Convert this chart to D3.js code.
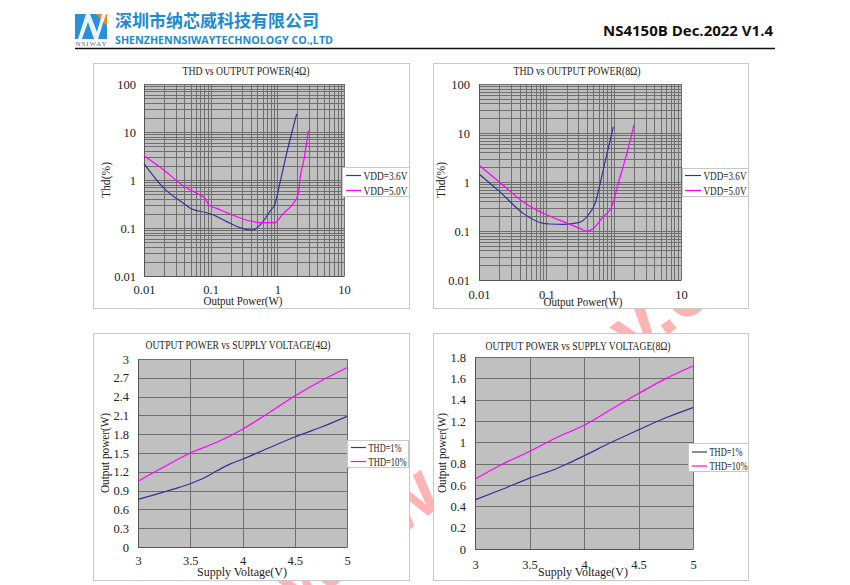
<!DOCTYPE html>
<html>
<head>
<meta charset="utf-8">
<script src="https://cdn.jsdelivr.net/npm/d3@7"></script>
<style>
  body { margin: 0; background: #fff; }
</style>
</head>
<body>
<div id="page"></div>
<script>
// === data
// THD vs output power, 4 ohm
var thd4_p36 = [0.01, 0.02, 0.039, 0.052, 0.087, 0.11, 0.174, 0.275, 0.39, 0.435, 0.55, 0.77, 0.92, 1.09, 1.38, 1.74, 1.95];
var thd4_v36 = [2.2, 0.67, 0.327, 0.249, 0.208, 0.187, 0.136, 0.102, 0.091, 0.091, 0.115, 0.22, 0.316, 0.85, 3.6, 12.9, 23.7];
var thd4_p50 = [0.01, 0.02, 0.039, 0.069, 0.082, 0.095, 0.123, 0.195, 0.39, 0.55, 0.92, 1.23, 1.74, 2.07, 2.19, 2.5, 2.92];
var thd4_v50 = [3.2, 1.6, 0.75, 0.487, 0.415, 0.296, 0.257, 0.196, 0.14, 0.13, 0.13, 0.202, 0.327, 0.527, 1.08, 2.6, 10.7];
// THD vs output power, 8 ohm
var thd8_p36 = [0.01, 0.0203, 0.0453, 0.0898, 0.113, 0.179, 0.3, 0.42, 0.53, 0.7, 0.99];
var thd8_v36 = [1.46, 0.635, 0.229, 0.143, 0.139, 0.137, 0.148, 0.212, 0.367, 1.76, 13.5];
var thd8_p50 = [0.01, 0.02, 0.045, 0.0716, 0.095, 0.179, 0.315, 0.4, 0.5, 0.7, 0.93, 1.17, 1.57, 2.0];
var thd8_v50 = [2.22, 1.0, 0.397, 0.268, 0.222, 0.155, 0.113, 0.1, 0.113, 0.196, 0.304, 0.94, 3.85, 14.6];
// output power vs supply voltage, 4 ohm
var pv4_v1 = [3, 3.25, 3.5, 3.63, 3.76, 3.89, 4, 4.25, 4.5, 4.75, 5];
var pv4_p1 = [0.76, 0.88, 1.01, 1.10, 1.22, 1.33, 1.40, 1.58, 1.755, 1.91, 2.085];
var pv4_v10 = [3, 3.25, 3.5, 3.76, 4, 4.25, 4.5, 4.75, 5];
var pv4_p10 = [1.05, 1.28, 1.50, 1.675, 1.88, 2.14, 2.41, 2.65, 2.86];
// output power vs supply voltage, 8 ohm
var pv8_v1 = [3, 3.25, 3.5, 3.75, 3.87, 4, 4.25, 4.5, 4.75, 5];
var pv8_p1 = [0.46, 0.56, 0.665, 0.755, 0.81, 0.873, 1.0, 1.117, 1.23, 1.326];
var pv8_v10 = [3, 3.25, 3.5, 3.75, 4, 4.25, 4.5, 4.75, 5];
var pv8_p10 = [0.655, 0.795, 0.914, 1.045, 1.16, 1.31, 1.457, 1.597, 1.715];

var logTicks = [0.01, 0.1, 1, 10, 100];
var logTickLabels = ["0.01", "0.1", "1", "10", "100"];
var vddLabels = ["VDD=3.6V", "VDD=5.0V"];
var thdLabels = ["THD=1%", "THD=10%"];
var voltTicks = [3, 3.5, 4, 4.5, 5];
var voltTickLabels = ["3", "3.5", "4", "4.5", "5"];
var pw4Ticks = [0, 0.3, 0.6, 0.9, 1.2, 1.5, 1.8, 2.1, 2.4, 2.7, 3];
var pw4TickLabels = ["0", "0.3", "0.6", "0.9", "1.2", "1.5", "1.8", "2.1", "2.4", "2.7", "3"];
var pw8Ticks = [0, 0.2, 0.4, 0.6, 0.8, 1, 1.2, 1.4, 1.6, 1.8];
var pw8TickLabels = ["0", "0.2", "0.4", "0.6", "0.8", "1", "1.2", "1.4", "1.6", "1.8"];

var BLUE = "#333399", PINK = "#ff00ff";
var SERIF = "Liberation Serif, DejaVu Serif, serif";

var svg = d3.select("#page").append("svg")
    .attr("width", 850).attr("height", 585)
    .attr("font-family", SERIF)
    .style("display", "block");

// === watermark (sits behind the white chart boxes)
svg.append("text")
    .attr("transform", "translate(300,612) rotate(-37)")
    .attr("font-family", "Liberation Sans")
    .attr("font-size", 78)
    .attr("font-weight", "bold")
    .attr("fill", "#ff6a6a")
    .attr("opacity", 0.5)
    .text("www.nsiway.c");

// === header
var logo = svg.append("g");
logo.append("rect").attr("x", 75).attr("y", 14).attr("width", 32).attr("height", 25).attr("fill", "#2a8fdc");
logo.append("path").attr("d", "M96,14 L107,14 L107,26 Z").attr("fill", "#f08a24");
logo.append("path").attr("d", "M78,39 L86,14 L90,14 L97,32 L102,14 L106,14 L98,39 L94,39 L88,22 L82,39 Z")
    .attr("fill", "#fff").attr("opacity", 0.9);
logo.append("text").attr("x", 91).attr("y", 46).attr("text-anchor", "middle")
    .attr("font-size", 7).attr("fill", "#5a6a8a").attr("textLength", 31).text("NSIWAY");

svg.append("text").attr("x", 115).attr("y", 27)
    .attr("font-family", "Noto Sans CJK SC").attr("font-weight", "bold")
    .attr("font-size", 17).attr("fill", "#1b8bd6")
    .text("深圳市纳芯威科技有限公司");
svg.append("text").attr("x", 115).attr("y", 44)
    .attr("font-family", "Open Sans").attr("font-weight", "bold")
    .attr("font-size", 10).attr("fill", "#1b8bd6")
    .attr("textLength", 218).attr("lengthAdjust", "spacingAndGlyphs")
    .text("SHENZHENNSIWAYTECHNOLOGY CO.,LTD");
svg.append("text").attr("x", 773).attr("y", 36).attr("text-anchor", "end")
    .attr("font-family", "Open Sans").attr("font-weight", "bold")
    .attr("font-size", 15).attr("fill", "#111")
    .attr("textLength", 170).attr("lengthAdjust", "spacingAndGlyphs")
    .text("NS4150B Dec.2022 V1.4");
svg.append("line").attr("x1", 75).attr("x2", 775).attr("y1", 48.5).attr("y2", 48.5)
    .attr("stroke", "#111").attr("stroke-width", 1.6);

// === helpers
function frame(o) {
  var g = svg.append("g");
  g.append("rect")
    .attr("x", o.box[0] + 0.5).attr("y", o.box[1] + 0.5)
    .attr("width", o.box[2] - o.box[0]).attr("height", o.box[3] - o.box[1])
    .attr("fill", "#fff").attr("stroke", "#c8c8c8");
  g.append("rect")
    .attr("x", o.plot[0]).attr("y", o.plot[1])
    .attr("width", o.plot[2] - o.plot[0]).attr("height", o.plot[3] - o.plot[1])
    .attr("fill", "#c0c0c0");
  return g;
}

function labels(g, o) {
  g.append("text").attr("x", o.title[0]).attr("y", o.title[1])
    .attr("text-anchor", "middle").attr("font-size", 11.5).attr("fill", "#222")
    .attr("textLength", o.title[3]).attr("lengthAdjust", "spacingAndGlyphs")
    .text(o.title[2]);
  g.append("text").attr("x", o.xlab[0]).attr("y", o.xlab[1])
    .attr("text-anchor", "middle").attr("font-size", 12).attr("fill", "#222")
    .attr("textLength", o.xlab[3]).attr("lengthAdjust", "spacingAndGlyphs")
    .text(o.xlab[2]);
  g.append("text")
    .attr("transform", "translate(" + o.ylab[0] + "," + o.ylab[1] + ") rotate(-90)")
    .attr("text-anchor", "middle").attr("font-size", 12).attr("fill", "#222")
    .attr("textLength", o.ylab[3]).attr("lengthAdjust", "spacingAndGlyphs")
    .text(o.ylab[2]);
}

function legend(g, o, names) {
  var L = o.legend; // x0, y0, x1, y1, lineX0, lineX1, row1y, row2y, text widths
  g.append("rect").attr("x", L[0] + 0.5).attr("y", L[1] + 0.5)
    .attr("width", L[2] - L[0]).attr("height", L[3] - L[1])
    .attr("fill", "#fff").attr("stroke", "#c8c8c8");
  [BLUE, PINK].forEach(function(c, i) {
    var y = i ? L[7] : L[6];
    g.append("line").attr("x1", L[4]).attr("x2", L[5]).attr("y1", y).attr("y2", y)
      .attr("stroke", c).attr("stroke-width", 1.2);
    g.append("text").attr("x", L[5] + 2.5).attr("y", y + 4)
      .attr("font-size", 11.5).attr("fill", "#222")
      .attr("textLength", L[8 + i]).attr("lengthAdjust", "spacingAndGlyphs")
      .text(names[i]);
  });
}

function series(g, x, y, xs, ys, color) {
  var pts = xs.map(function(v, i) { return [x(v), y(ys[i])]; });
  g.append("path")
    .attr("d", d3.line().curve(d3.curveMonotoneX)(pts))
    .attr("fill", "none").attr("stroke", color).attr("stroke-width", 1.2);
}

function styleAxis(a) {
  a.select(".domain").attr("stroke", "#555");
  a.selectAll("text").attr("font-family", SERIF).attr("font-size", 12.5).attr("fill", "#222");
}

function logChart(o) {
  var g = frame(o);
  var x = d3.scaleLog().domain([0.01, 10]).range([o.plot[0], o.plot[2]]);
  var y = d3.scaleLog().domain([0.01, 100]).range([o.plot[3], o.plot[1]]);
  var xMinor = [], yMinor = [];
  [0.01, 0.1, 1].forEach(function(d) { for (var k = 1; k < 10; k++) xMinor.push(d * k); });
  [0.01, 0.1, 1, 10].forEach(function(d) { for (var k = 1; k < 10; k++) yMinor.push(d * k); });
  g.selectAll(".vx").data(xMinor).enter().append("line")
    .attr("x1", function(d) { return Math.round(x(d)) + 0.5; })
    .attr("x2", function(d) { return Math.round(x(d)) + 0.5; })
    .attr("y1", o.plot[1]).attr("y2", o.plot[3])
    .attr("stroke", "#6f6f6f").attr("stroke-width", 1);
  g.selectAll(".hy").data(yMinor.concat([100])).enter().append("line")
    .attr("y1", function(d) { return Math.round(y(d)) + 0.5; })
    .attr("y2", function(d) { return Math.round(y(d)) + 0.5; })
    .attr("x1", o.plot[0]).attr("x2", o.plot[2])
    .attr("stroke", "#6f6f6f").attr("stroke-width", 1);
  g.append("line").attr("x1", o.plot[2] + 0.5).attr("x2", o.plot[2] + 0.5)
    .attr("y1", o.plot[1]).attr("y2", o.plot[3]).attr("stroke", "#6f6f6f");

  // axes with the library, then restyle
  var xa = g.append("g").attr("transform", "translate(0," + o.plot[3] + ")")
    .call(d3.axisBottom(x).tickValues(logTicks.slice(0, 4)).tickSize(0).tickPadding(o.xpad)
      .tickFormat(function(d, i) { return logTickLabels[i]; }));
  var ya = g.append("g").attr("transform", "translate(" + o.plot[0] + ",0)")
    .call(d3.axisLeft(y).tickValues(logTicks).tickSize(0).tickPadding(o.ypad)
      .tickFormat(function(d, i) { return logTickLabels[i]; }));
  styleAxis(xa); styleAxis(ya);

  series(g, x, y, o.s1[0], o.s1[1], BLUE);
  series(g, x, y, o.s2[0], o.s2[1], PINK);
  labels(g, o);
  legend(g, o, vddLabels);
}

function linChart(o) {
  var g = frame(o);
  var x = d3.scaleLinear().domain([3, 5]).range([o.plot[0], o.plot[2]]);
  var y = d3.scaleLinear().domain([0, o.ymax]).range([o.plot[3], o.plot[1]]);
  g.selectAll(".vx").data(voltTicks).enter().append("line")
    .attr("x1", function(d) { return Math.round(x(d)) + 0.5; })
    .attr("x2", function(d) { return Math.round(x(d)) + 0.5; })
    .attr("y1", o.plot[1]).attr("y2", o.plot[3])
    .attr("stroke", "#6f6f6f");
  g.selectAll(".hy").data(o.yticks).enter().append("line")
    .attr("y1", function(d) { return Math.round(y(d)) + 0.5; })
    .attr("y2", function(d) { return Math.round(y(d)) + 0.5; })
    .attr("x1", o.plot[0]).attr("x2", o.plot[2])
    .attr("stroke", "#6f6f6f");

  var xa = g.append("g").attr("transform", "translate(0," + o.plot[3] + ")")
    .call(d3.axisBottom(x).tickValues(voltTicks).tickSize(0).tickPadding(o.xpad)
      .tickFormat(function(d, i) { return voltTickLabels[i]; }));
  var ya = g.append("g").attr("transform", "translate(" + o.plot[0] + ",0)")
    .call(d3.axisLeft(y).tickValues(o.yticks).tickSize(0).tickPadding(o.ypad)
      .tickFormat(function(d, i) { return o.ylabels[i]; }));
  styleAxis(xa); styleAxis(ya);

  series(g, x, y, o.s1[0], o.s1[1], BLUE);
  series(g, x, y, o.s2[0], o.s2[1], PINK);
  labels(g, o);
  legend(g, o, thdLabels);
}

// === the four charts
logChart({
  box: [93, 63, 409, 308], plot: [144, 84, 344, 276], xpad: 9, ypad: 8,
  title: [246, 75, "THD vs OUTPUT POWER(4Ω)", 127],
  xlab: [243, 305, "Output Power(W)", 79],
  ylab: [110, 180, "Thd(%)", 36],
  legend: [342, 167, 409, 196, 346, 361, 175.5, 190.5, 44, 44],
  s1: [thd4_p36, thd4_v36], s2: [thd4_p50, thd4_v50]
});
logChart({
  box: [433, 63, 748, 308], plot: [479, 84, 681, 280], xpad: 10, ypad: 9,
  title: [577, 75, "THD vs OUTPUT POWER(8Ω)", 127],
  xlab: [583, 306, "Output Power(W)", 79],
  ylab: [445, 180, "Thd(%)", 36],
  legend: [682, 168, 748, 196, 685, 701, 175.5, 190.5, 43, 43],
  s1: [thd8_p36, thd8_v36], s2: [thd8_p50, thd8_v50]
});
linChart({
  box: [93, 333, 409, 580], plot: [138, 359, 347, 547], xpad: 9, ypad: 9,
  ymax: 3, yticks: pw4Ticks, ylabels: pw4TickLabels,
  title: [238, 349, "OUTPUT POWER vs SUPPLY VOLTAGE(4Ω)", 185],
  xlab: [242, 576, "Supply Voltage(V)", 90],
  ylab: [109, 453, "Output power(W)", 80],
  legend: [347, 440, 408, 467, 351, 366, 447.5, 461.5, 33, 38],
  s1: [pv4_v1, pv4_p1], s2: [pv4_v10, pv4_p10]
});
linChart({
  box: [433, 333, 748, 580], plot: [475, 357, 693, 549], xpad: 11, ypad: 9,
  ymax: 1.8, yticks: pw8Ticks, ylabels: pw8TickLabels,
  title: [578, 350, "OUTPUT POWER vs SUPPLY VOLTAGE(8Ω)", 185],
  xlab: [583, 576, "Supply Voltage(V)", 90],
  ylab: [446, 453, "Output power(W)", 80],
  legend: [688, 443, 748, 471, 692, 707, 452, 466, 33, 38],
  s1: [pv8_v1, pv8_p1], s2: [pv8_v10, pv8_p10]
});
</script>
</body>
</html>
